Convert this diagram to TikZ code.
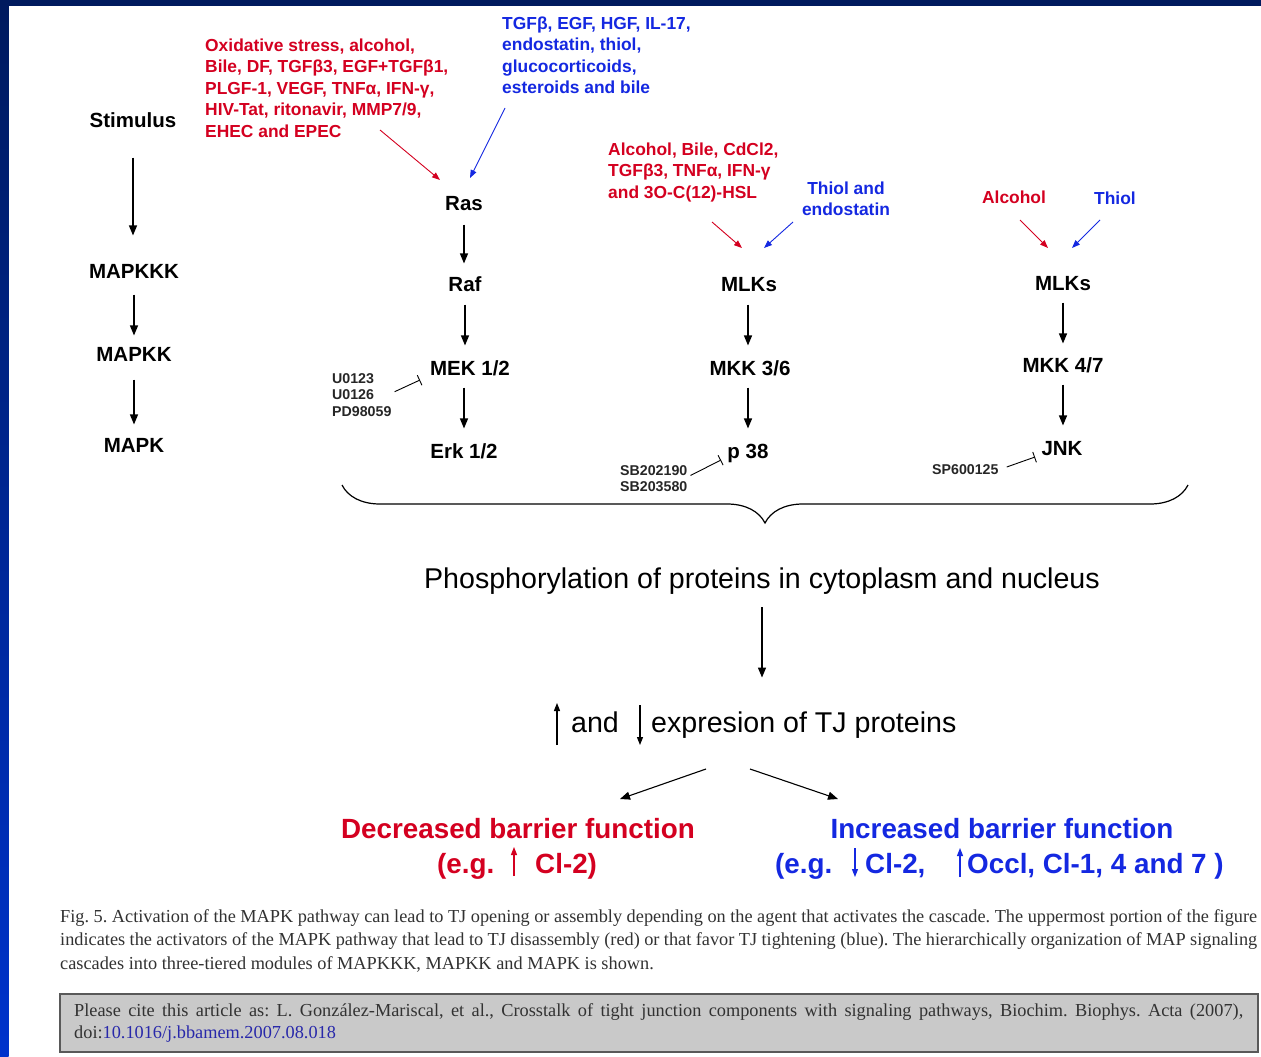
\documentclass[tikz,border=0pt]{standalone}
\usepackage{fontspec}
\setmainfont{Liberation Sans}
\newfontfamily\capfont{Liberation Serif}
\usetikzlibrary{arrows.meta,decorations.pathreplacing}
\definecolor{navy}{RGB}{0,26,94}
\definecolor{brightblue}{RGB}{0,51,204}
\definecolor{myred}{RGB}{212,0,32}
\definecolor{myblue}{RGB}{20,40,225}
\definecolor{boxgray}{RGB}{201,201,201}
\definecolor{captxt}{RGB}{50,50,50}
\definecolor{linkblue}{RGB}{40,40,170}
\frenchspacing
\begin{document}
\begin{tikzpicture}[x=1pt,y=-1pt,
  lab/.style={font=\fontsize{20.5}{24}\selectfont\bfseries, inner sep=2pt, text height=14.7pt, text depth=0pt},
  big/.style={font=\fontsize{28.6}{32}\selectfont, inner sep=2pt, text height=20.5pt, text depth=0pt},
  bigb/.style={font=\fontsize{27.8}{32}\selectfont\bfseries, inner sep=2pt, text height=19.9pt, text depth=0pt},
  arr/.style={-{Triangle[length=10pt,width=8pt]}, line width=1.3pt},
  thinarr/.style={-{Triangle[length=8pt,width=6pt]}, line width=1.1pt},
  redarr/.style={-{Triangle[length=8pt,width=6pt]}, line width=0.9pt, myred},
  bluearr/.style={-{Triangle[length=8pt,width=6pt]}, line width=0.9pt, myblue},
  inh/.style={-{Bar[width=11pt]}, line width=0.9pt},
  redtxt/.style={font=\fontsize{17.4}{21.5}\selectfont\bfseries, text=myred, align=left, inner sep=0pt},
  bluetxt/.style={font=\fontsize{17.4}{21.5}\selectfont\bfseries, text=myblue, align=left, inner sep=0pt},
  inhtxt/.style={font=\fontsize{14.2}{16.5}\selectfont\bfseries, text=black!85, align=left, inner sep=0pt},
  capt/.style={font=\capfont\fontsize{18.3}{23.5}\selectfont, text=captxt, inner sep=0pt}
]
\useasboundingbox (0,0) rectangle (1261,1057);
% background
\fill[white] (0,0) rectangle (1261,1057);
\fill[navy] (0,0) rectangle (1261,6);
\shade[top color=navy, bottom color=brightblue] (0,0) rectangle (8.5,1057);

% left hierarchy column
\node[lab] (stim) at (133,120) {Stimulus};
\node[lab] (mkkk) at (134,271) {MAPKKK};
\node[lab] (mkk)  at (134,354) {MAPKK};
\node[lab] (mapk) at (134,445) {MAPK};
\draw[arr, shorten <=28pt, shorten >=26pt] (stim.south) -- (stim.south |- mkkk.north);
\draw[arr, shorten <=14pt, shorten >=9pt] (mkkk.south) -- (mkkk.south |- mkk.north);
\draw[arr, shorten <=16pt, shorten >=11pt] (mkk.south) -- (mkk.south |- mapk.north);

% column 1
\node[redtxt, anchor=north west] (act1r) at (205,38.6) {Oxidative stress, alcohol,\\Bile, DF, TGFβ3, EGF+TGFβ1,\\PLGF-1, VEGF, TNFα, IFN-γ,\\HIV-Tat, ritonavir, MMP7/9,\\EHEC and EPEC};
\node[bluetxt, anchor=north west] (act1b) at (502,16.6) {TGFβ, EGF, HGF, IL-17,\\endostatin, thiol,\\glucocorticoids,\\esteroids and bile};
\node[lab] (ras) at (464,203) {Ras};
\node[lab] (raf) at (465,284) {Raf};
\node[lab] (mek) at (470,368) {MEK 1/2};
\node[lab] (erk) at (464,451) {Erk 1/2};
\coordinate (r1s) at (380,130);
\coordinate (r1t) at (440,180);
\coordinate (b1s) at (505,108);
\coordinate (b1t) at (470,178);
\draw[redarr] (r1s) -- (r1t);
\draw[bluearr] (b1s) -- (b1t);
\draw[arr, shorten <=12pt, shorten >=11pt] (ras.south) -- (ras.south |- raf.north);
\draw[arr, shorten <=11pt, shorten >=13pt] (raf.south) -- (raf.south |- mek.north);
\draw[arr, shorten <=10pt, shorten >=13pt] (erk.north |- mek.south) -- (erk.north);
\node[inhtxt, anchor=north west] (u0) at (332,373) {U0123\\U0126\\PD98059};
\coordinate (mekinh) at (420,380);
\draw[inh] ([shift={(3,-3)}]u0.east) -- (mekinh);

% column 2
\node[redtxt, anchor=north west] (act2r) at (608,142.6) {Alcohol, Bile, CdCl2,\\TGFβ3, TNFα, IFN-γ\\and 3O-C(12)-HSL};
\node[bluetxt, align=center, anchor=north] (act2b) at (846,181.6) {Thiol and\\endostatin};
\node[lab] (mlk1) at (749,284) {MLKs};
\node[lab] (mkk36) at (750,368) {MKK 3/6};
\node[lab] (p38) at (748,451) {p 38};
\coordinate (r2s) at (712,222);
\coordinate (r2t) at (742,248);
\coordinate (b2s) at (793,222);
\coordinate (b2t) at (764,248);
\draw[redarr] (r2s) -- (r2t);
\draw[bluearr] (b2s) -- (b2t);
\draw[arr, shorten <=11pt, shorten >=13pt] (p38.north |- mlk1.south) -- (p38.north |- mkk36.north);
\draw[arr, shorten <=10pt, shorten >=13pt] (p38.north |- mkk36.south) -- (p38.north);
\node[inhtxt, anchor=north west] (sb) at (620,465) {SB202190\\SB203580};
\coordinate (p38inh) at (721,460);
\draw[inh] ([shift={(3,-3)}]sb.east) -- (p38inh);

% column 3
\node[redtxt, anchor=north] (act3r) at (1014,190.6) {Alcohol};
\node[bluetxt, anchor=north] (act3b) at (1115,191.6) {Thiol};
\node[lab] (mlk2) at (1063,283) {MLKs};
\node[lab] (mkk47) at (1063,365) {MKK 4/7};
\node[lab] (jnk) at (1062,448) {JNK};
\coordinate (r3s) at (1020,220);
\coordinate (r3t) at (1048,248);
\coordinate (b3s) at (1100,220);
\coordinate (b3t) at (1072,248);
\draw[redarr] (r3s) -- (r3t);
\draw[bluearr] (b3s) -- (b3t);
\draw[arr, shorten <=10pt, shorten >=12pt] (mlk2.south) -- (mlk2.south |- mkk47.north);
\draw[arr, shorten <=10pt, shorten >=13pt] (mkk47.south) -- (mkk47.south |- jnk.north);
\node[inhtxt, anchor=west] (sp) at (932,470) {SP600125};
\coordinate (jnkinh) at (1035,457);
\draw[inh] ([shift={(8,-3)}]sp.east) -- (jnkinh);

% brace
\draw[line width=1.2pt, decorate, decoration={brace, mirror, amplitude=38pt}] (342,485) -- (1188,485);

% lower part
\node[big] (phos) at (762,578) {Phosphorylation of proteins in cytoplasm and nucleus};
\node[big, anchor=center] (andw) at (595,722) {and};
\node[big, anchor=west, inner sep=0pt] (expr) at (651,722) {expresion of TJ proteins};
\draw[arr, shorten <=17pt, shorten >=34pt] (phos.south) -- (phos.south |- expr.north);
\coordinate (upa) at (557,745);
\coordinate (upb) at (557,703);
\coordinate (dna) at (640,705);
\coordinate (dnb) at (640,745);
\draw[thinarr] (upa) -- (upb);
\draw[thinarr] (dna) -- (dnb);

\coordinate (d1s) at (706,769);
\coordinate (d1t) at (620,799);
\coordinate (i1s) at (750,769);
\coordinate (i1t) at (838,799);
\draw[arr, line width=1.1pt] (d1s) -- (d1t);
\draw[arr, line width=1.1pt] (i1s) -- (i1t);

\node[bigb, text=myred] (dec) at (518,829) {Decreased barrier function};
\node[bigb, text=myblue] (inc) at (1002,829) {Increased barrier function};
\node[bigb, text=myred, anchor=west, inner sep=0pt] (deceg) at (437,864) {(e.g.};
\node[bigb, text=myred, anchor=west, inner sep=0pt] (deccl) at (535,864) {Cl-2)};
\coordinate (dua) at (514,876);
\coordinate (dub) at (514,847);
\draw[thinarr, myred] (dua) -- (dub);
\node[bigb, text=myblue, anchor=west, inner sep=0pt] (inceg) at (775,864) {(e.g.};
\node[bigb, text=myblue, anchor=west, inner sep=0pt] (inccl) at (865,864) {Cl-2,};
\node[bigb, text=myblue, anchor=west, inner sep=0pt] (incoc) at (967,864) {Occl, Cl-1, 4 and 7 )};
\coordinate (ida) at (855,848);
\coordinate (idb) at (855,877);
\coordinate (iua) at (960,877);
\coordinate (iub) at (960,848);
\draw[thinarr, myblue] (ida) -- (idb);
\draw[thinarr, myblue] (iua) -- (iub);

% caption
\node[capt, anchor=base west] (cap1) at (60,922) {\makebox[1197pt][s]{Fig. 5. Activation of the MAPK pathway can lead to TJ opening or assembly depending on the agent that activates the cascade. The uppermost portion of the figure}};
\node[capt, anchor=base west] (cap2) at (60,945) {\makebox[1197pt][s]{indicates the activators of the MAPK pathway that lead to TJ disassembly (red) or that favor TJ tightening (blue). The hierarchically organization of MAP signaling}};
\node[capt, anchor=base west] (cap3) at (60,969) {cascades into three-tiered modules of MAPKKK, MAPKK and MAPK is shown.};

% citation box
\draw[fill=boxgray, draw=black!65, line width=1.2pt] (60,994) rectangle (1258,1052);
\node[capt, anchor=base west] (cite1) at (74,1016) {\makebox[1169pt][s]{Please cite this article as: L. González-Mariscal, et al., Crosstalk of tight junction components with signaling pathways, Biochim. Biophys. Acta (2007),}};
\node[capt, anchor=base west] (cite2) at (74,1038) {doi:\textcolor{linkblue}{10.1016/j.bbamem.2007.08.018}};
\end{tikzpicture}
\end{document}
